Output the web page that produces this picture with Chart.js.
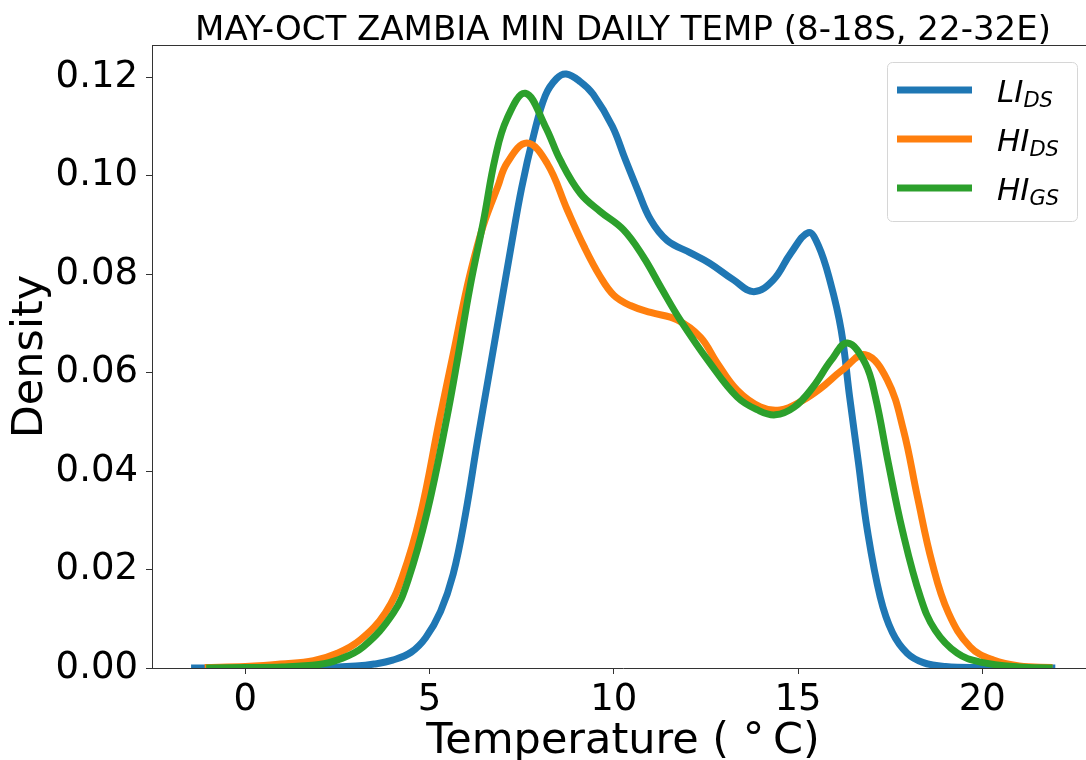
<!DOCTYPE html>
<html lang="en">
<head>
    <meta charset="UTF-8">
    <title>May-Oct Zambia min daily temp</title>
    <script src="https://cdn.jsdelivr.net/npm/chart.js"></script>
    <style>
        html, body { margin: 0; padding: 0; overflow: hidden; background: #fff; }
        #wrap { width: 1100px; height: 768px; }
    </style>
</head>
<body>
    <div id="wrap"><canvas id="kdeChart"></canvas></div>
    <script>
        // KDE curves, temperature (deg C) vs density
        const liDsX = [-1.47, 0, 2, 3, 3.5, 4.0, 4.5, 4.9, 5.3, 5.64, 5.97, 6.3, 6.6, 6.9, 7.2, 7.5, 7.82, 8.14, 8.45, 8.71, 9.1, 9.44, 9.96, 10.3, 10.64, 11.0, 11.45, 12.08, 12.6, 13.25, 13.8, 14.33, 14.8, 15.28, 15.55, 15.87, 16.17, 16.4, 16.64, 16.88, 17.23, 17.56, 17.96, 18.4, 19, 20, 21.98];
        const liDsY = [0, 0, 0.0001, 0.0004, 0.0008, 0.0016, 0.0032, 0.0062, 0.0115, 0.019, 0.031, 0.046, 0.059, 0.072, 0.085, 0.0975, 0.108, 0.1162, 0.1197, 0.1206, 0.119, 0.1165, 0.110, 0.1035, 0.0972, 0.091, 0.0868, 0.0843, 0.0822, 0.0788, 0.0764, 0.0788, 0.0842, 0.0884, 0.0858, 0.0785, 0.0686, 0.055, 0.0416, 0.028, 0.0144, 0.0072, 0.003, 0.0011, 0.0003, 0.0001, 0];

        const hiDsX = [-1.1, 0, 0.5, 0.95, 1.85, 2.5, 3.12, 3.8, 4.26, 4.75, 5.27, 5.65, 6.02, 6.29, 6.51, 6.85, 7.1, 7.64, 8.19, 8.74, 9.2, 9.63, 10.0, 10.45, 11.0, 11.72, 12.35, 12.8, 13.35, 13.98, 14.52, 15.14, 15.6, 16.2, 16.82, 17.42, 17.86, 18.24, 18.64, 19.08, 19.67, 20.3, 21, 21.9];
        const hiDsY = [0.0001, 0.0003, 0.0005, 0.0008, 0.0015, 0.003, 0.0057, 0.0112, 0.0185, 0.031, 0.0504, 0.064, 0.0774, 0.0855, 0.091, 0.0977, 0.1025, 0.1066, 0.1025, 0.093, 0.0855, 0.0795, 0.0757, 0.0736, 0.0722, 0.0707, 0.0672, 0.062, 0.0564, 0.053, 0.0524, 0.0544, 0.0567, 0.0605, 0.0636, 0.0585, 0.0483, 0.0347, 0.0213, 0.0112, 0.0043, 0.0016, 0.0004, 0.0001];

        const hiGsX = [-1.06, 0, 1, 2, 2.5, 3.2, 4.02, 4.42, 4.93, 5.46, 5.79, 6.1, 6.47, 6.78, 7.1, 7.6, 8.14, 8.55, 9.09, 9.63, 10.26, 10.8, 11.3, 11.8, 12.6, 13.35, 13.9, 14.38, 14.9, 15.4, 15.9, 16.34, 16.82, 17.1, 17.45, 17.83, 18.32, 18.72, 19.32, 19.95, 21, 21.9];
        const hiGsY = [0, 0.0001, 0.0002, 0.0007, 0.0016, 0.0043, 0.0112, 0.0179, 0.0315, 0.0504, 0.064, 0.0774, 0.091, 0.1035, 0.1115, 0.1167, 0.110, 0.1031, 0.0964, 0.0927, 0.089, 0.0835, 0.077, 0.0707, 0.062, 0.055, 0.0524, 0.0514, 0.053, 0.057, 0.0625, 0.066, 0.0619, 0.055, 0.0416, 0.028, 0.0144, 0.0077, 0.003, 0.0012, 0.0002, 0];

        const seriesNames = ['LI', 'HI', 'HI'];
        const seriesSubs = ['DS', 'DS', 'GS'];
        const seriesColors = ['#1f77b4', '#ff7f0e', '#2ca02c'];

        const xTicks = [0, 5, 10, 15, 20];
        const yTicks = [0, 0.02, 0.04, 0.06, 0.08, 0.10, 0.12];

        const chartTitle = 'MAY-OCT ZAMBIA MIN DAILY TEMP (8-18S, 22-32E)';
        const FONT = "'DejaVu Sans', sans-serif";

        function toPoints(xs, ys) {
            return xs.map((x, i) => ({ x: x, y: ys[i] }));
        }

        // title centred over the plot area, plus top/right spines
        const framePlugin = {
            id: 'frame',
            afterDraw(chart) {
                const { ctx, chartArea } = chart;
                ctx.save();
                ctx.strokeStyle = '#333';
                ctx.lineWidth = 1;
                ctx.beginPath();
                ctx.moveTo(chartArea.left, chartArea.top + 0.5);
                ctx.lineTo(chartArea.right, chartArea.top + 0.5);
                ctx.lineTo(chartArea.right, chartArea.bottom);
                ctx.stroke();
                ctx.fillStyle = '#000';
                ctx.font = '34px ' + FONT;
                ctx.textAlign = 'center';
                ctx.textBaseline = 'alphabetic';
                ctx.fillText(chartTitle, (chartArea.left + chartArea.right) / 2, chartArea.top - 5);
                ctx.restore();
            }
        };

        // legend with subscripted labels
        const subLegend = {
            id: 'subLegend',
            afterDraw(chart) {
                const { ctx, chartArea } = chart;
                const w = 190, h = 159;
                const left = chartArea.right - 17 - w;
                const top = chartArea.top + 17;
                ctx.save();
                ctx.fillStyle = 'rgba(255,255,255,0.8)';
                ctx.strokeStyle = '#d6d6d6';
                ctx.lineWidth = 1;
                ctx.beginPath();
                ctx.roundRect(left + 0.5, top + 0.5, w, h, 5);
                ctx.fill();
                ctx.stroke();
                chart.data.datasets.forEach((ds, i) => {
                    const y = top + 28 + i * 49;
                    ctx.strokeStyle = ds.borderColor;
                    ctx.lineWidth = 7;
                    ctx.lineCap = 'butt';
                    ctx.beginPath();
                    ctx.moveTo(left + 10, y);
                    ctx.lineTo(left + 85, y);
                    ctx.stroke();
                    ctx.fillStyle = '#000';
                    ctx.textBaseline = 'alphabetic';
                    ctx.textAlign = 'left';
                    ctx.font = 'italic 31px ' + FONT;
                    const base = y + 12;
                    ctx.fillText(seriesNames[i], left + 110, base);
                    const mw = ctx.measureText(seriesNames[i]).width;
                    ctx.font = 'italic 21px ' + FONT;
                    ctx.fillText(seriesSubs[i], left + 110 + mw, base + 5);
                });
                ctx.restore();
            }
        };

        const series = [
            { xs: liDsX, ys: liDsY },
            { xs: hiDsX, ys: hiDsY },
            { xs: hiGsX, ys: hiGsY }
        ];

        const ctx = document.getElementById('kdeChart').getContext('2d');
        const kdeChart = new Chart(ctx, {
            type: 'line',
            data: {
                datasets: series.map((s, i) => ({
                    label: seriesNames[i] + seriesSubs[i],
                    data: toPoints(s.xs, s.ys),
                    borderColor: seriesColors[i],
                    backgroundColor: seriesColors[i],
                    borderWidth: 7,
                    pointRadius: 0,
                    fill: false,
                    tension: 0.4,
                    clip: 0,
                    order: 3 - i
                }))
            },
            options: {
                responsive: true,
                maintainAspectRatio: false,
                animation: false,
                layout: { padding: { left: 0, right: 6, top: 45, bottom: 0 } },
                plugins: {
                    legend: { display: false },
                    tooltip: { enabled: false },
                    title: { display: false }
                },
                scales: {
                    x: {
                        type: 'linear',
                        min: -2.53,
                        max: 23.03,
                        afterBuildTicks: s => { s.ticks = xTicks.map(v => ({ value: v })); },
                        afterFit: s => { s.height = 100; },
                        grid: { drawOnChartArea: false, drawTicks: true, tickLength: 6, color: '#333' },
                        border: { color: '#333', width: 1 },
                        ticks: { color: '#000', padding: 4, maxRotation: 0, font: { family: FONT, size: 37 } },
                        title: {
                            display: true,
                            text: 'Temperature ( °\u2009C)',
                            color: '#000',
                            font: { family: FONT, size: 43 },
                            padding: { top: 0, bottom: 0 }
                        }
                    },
                    y: {
                        min: 0,
                        max: 0.1265,
                        afterBuildTicks: s => { s.ticks = yTicks.map(v => ({ value: v })); },
                        afterFit: s => { s.width = 152; },
                        grid: { drawOnChartArea: false, drawTicks: true, tickLength: 6, color: '#333' },
                        border: { color: '#333', width: 1 },
                        ticks: {
                            color: '#000',
                            padding: 8,
                            font: { family: FONT, size: 37 },
                            callback: v => v.toFixed(2)
                        },
                        title: {
                            display: true,
                            text: 'Density',
                            color: '#000',
                            font: { family: FONT, size: 43 },
                            padding: { top: 5, bottom: 0 }
                        }
                    }
                }
            },
            plugins: [framePlugin, subLegend]
        });
    </script>
</body>
</html>
